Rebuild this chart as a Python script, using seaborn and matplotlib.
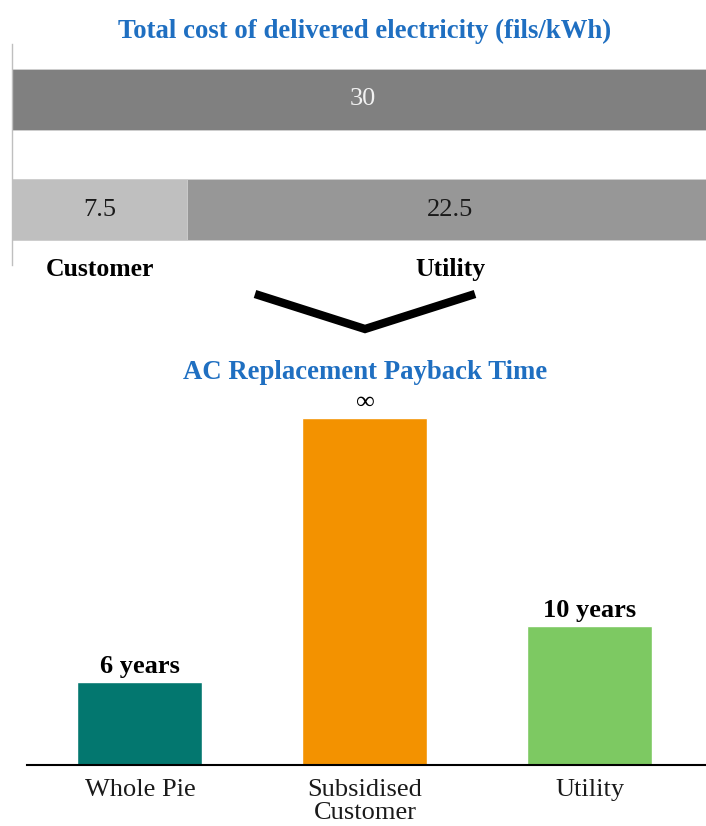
import pandas as pd
import matplotlib.pyplot as plt
import seaborn as sns
from matplotlib.lines import Line2D

# top chart: cost of delivered electricity (fils/kWh)
cost_rows = ["Total", "Split"]
total_cost = 30
customer_cost = 7.5
utility_cost = 22.5
split_labels = ["Customer", "Utility"]

# bottom chart: AC replacement payback
payback_cats = ["Whole Pie", "Subsidised\nCustomer", "Utility"]
payback_years = [6, 25, 10]          # 25 = drawn height of the "infinite" bar
payback_labels = ["6 years", "\u221e", "10 years"]
payback_colors = ["#03776f", "#f39200", "#7dc962"]

sns.set_theme(style="white")
plt.rcParams['font.family'] = ['Liberation Serif', 'DejaVu Serif']

W, H = 706, 826
fig = plt.figure(figsize=(W / 100, H / 100), dpi=100)
blue = "#1f6fc1"

# ---- top stacked bars
ax1 = fig.add_axes([12 / W, 1 - 265 / H, (W - 12) / W, 221 / H])
layer1 = pd.DataFrame({"row": cost_rows,
                       "value": [total_cost, customer_cost + utility_cost],
                       "seg": ["total", "utility"]})
sns.barplot(data=layer1, y="row", x="value", hue="seg", order=cost_rows,
            palette={"total": "#808080", "utility": "#979797"},
            dodge=False, legend=False, width=0.55, orient="h", ax=ax1,
            edgecolor="#d0d0d0", linewidth=0.6)
layer2 = pd.DataFrame({"row": ["Split"], "value": [customer_cost]})
sns.barplot(data=layer2, y="row", x="value", order=cost_rows, color="#bfbfbf",
            width=0.55, orient="h", ax=ax1, saturation=1,
            edgecolor="#d0d0d0", linewidth=0.6)
ax1.set_xlim(0, 29.7)
ax1.set_ylim(1.5, -0.5)
ax1.set_xlabel("")
ax1.set_ylabel("")
ax1.set_xticks([])
ax1.set_yticks([])
for s in ["top", "right", "bottom"]:
    ax1.spines[s].set_visible(False)
ax1.spines["left"].set_color("#bfbfbf")
ax1.spines["left"].set_linewidth(1)

ax1.text(total_cost / 2, 0, f"{total_cost:g}", ha="center", va="center",
         color="#f2f2f2", fontsize=19)
ax1.text(customer_cost / 2, 1, f"{customer_cost:g}", ha="center", va="center",
         color="#1a1a1a", fontsize=19)
ax1.text(customer_cost + utility_cost / 2, 1, f"{utility_cost:g}", ha="center",
         va="center", color="#1a1a1a", fontsize=19)
ax1.text(customer_cost / 2, 1.54, split_labels[0], ha="center", va="center",
         fontsize=18.5, fontweight="bold", color="black", clip_on=False)
ax1.text(customer_cost + utility_cost / 2, 1.54, split_labels[1], ha="center",
         va="center", fontsize=18.5, fontweight="bold", color="black", clip_on=False)

fig.text(365 / W, 1 - 31 / H, "Total cost of delivered electricity (fils/kWh)",
         ha="center", va="center", color=blue, fontsize=19.3, fontweight="bold")

# chevron
fig.add_artist(Line2D([255 / W, 365 / W, 475 / W],
                      [1 - 294 / H, 1 - 329 / H, 1 - 294 / H],
                      color="black", linewidth=6, solid_joinstyle="miter",
                      solid_capstyle="butt"))

# ---- bottom bars
ax2 = fig.add_axes([27 / W, 1 - 765 / H, (W - 27) / W, 375 / H])
pay = pd.DataFrame({"cat": payback_cats, "years": payback_years})
sns.barplot(data=pay, x="cat", y="years", hue="cat", palette=payback_colors,
            saturation=1, legend=False, width=0.556, ax=ax2)
ax2.set_xlim(-0.502, 2.516)
ax2.set_ylim(0, 27)
ax2.set_xlabel("")
ax2.set_ylabel("")
ax2.set_yticks([])
for s in ["top", "right", "left"]:
    ax2.spines[s].set_visible(False)
ax2.spines["bottom"].set_color("black")
ax2.spines["bottom"].set_linewidth(1.5)
ax2.tick_params(axis="x", length=0, labelsize=19, labelcolor="#1a1a1a", pad=10)
for lab in ax2.get_xticklabels():
    lab.set_linespacing(1.05)

for cont, lab in zip(ax2.containers, payback_labels):
    texts = ax2.bar_label(cont, labels=[lab], padding=3, fontsize=19,
                          color="black")
    for t in texts:
        if lab != "\u221e":
            t.set_fontweight("bold")

fig.text(365 / W, 1 - 372 / H, "AC Replacement Payback Time", ha="center",
         va="center", color=blue, fontsize=19.3, fontweight="bold")

fig.savefig("out.png", dpi=100)
